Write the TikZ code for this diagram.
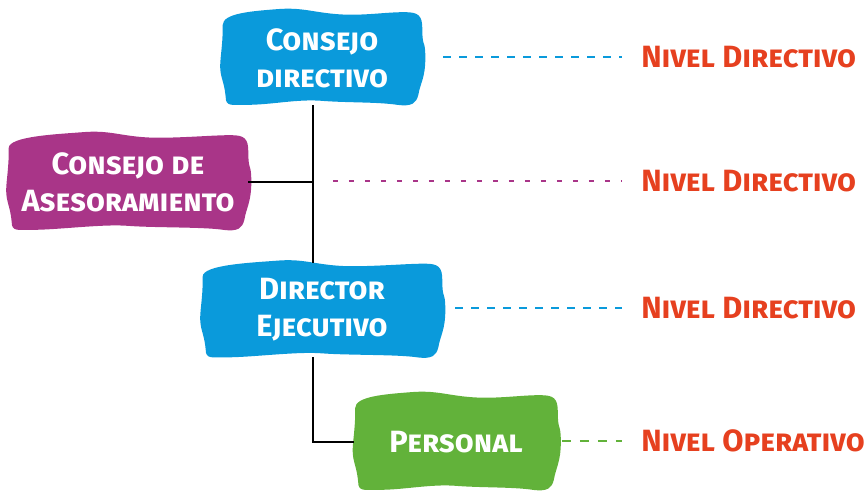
\documentclass[tikz,border=0pt]{standalone}
\usepackage{fontspec}
\setsansfont{Fira Sans}[BoldFont={Fira Sans Bold}]
\usetikzlibrary{calc,backgrounds}

\definecolor{dirblue}{HTML}{0A9ADB}
\definecolor{asemag}{HTML}{A93588}
\definecolor{pergreen}{HTML}{62B23A}
\definecolor{nivred}{HTML}{E6401F}

% wavy fill behind a named box
\newcommand{\wavybox}[2]{%
  \fill[#2] ($(#1.north west)+(1,14)$)
    .. controls +(0,-12) and +(-25,2) .. ($(#1.north)+(-45,-2)$)
    .. controls +(25,-2) and +(-25,-2) .. ($(#1.north)+(15,3)$)
    .. controls +(25,2) and +(-20,0) .. ($(#1.north east)+(-18,1)$)
    .. controls +(14,0) and +(0,-14) .. ($(#1.north east)+(0,18)$)
    .. controls +(0,20) and +(0,-20) .. ($(#1.east)+(3,0)$)
    .. controls +(0,20) and +(2,-12) .. ($(#1.south east)+(-4,-10)$)
    .. controls +(-2,8) and +(15,2) .. ($(#1.south east)+(-25,0)$)
    .. controls +(-20,-3) and +(25,2) .. ($(#1.south)+(0,-4)$)
    .. controls +(-25,-2) and +(25,0) .. ($(#1.south west)+(25,0)$)
    .. controls +(-15,0) and +(0,10) .. ($(#1.south west)+(4,-8)$)
    .. controls +(-2,-20) and +(-2,20) .. ($(#1.west)+(-1,0)$)
    .. controls +(2,-20) and +(0,12) .. cycle;
}

\begin{document}
\begin{tikzpicture}[x=0.02cm,y=-0.02cm,
  box/.style={text=white,font=\sffamily\bfseries\scshape\fontsize{17.5}{21}\selectfont,
    align=center,inner sep=0pt},
  nivel/.style={text=nivred,font=\sffamily\bfseries\scshape\fontsize{17.5}{20}\selectfont,
    anchor=west,inner sep=0pt},
  trunkline/.style={line width=1.6pt},
  dashblue/.style={dirblue,line width=1.5pt,dash pattern=on 0.16cm off 0.16cm},
  dashmag/.style={asemag,line width=1.5pt,dash pattern=on 0.1cm off 0.22cm},
  dashgreen/.style={pergreen,line width=1.5pt,dash pattern=on 0.18cm off 0.18cm}]
  \useasboundingbox (0,0) rectangle (867,493);

  %boxes
  \node[box,minimum width=4cm,minimum height=1.86cm] (cd) at (322,58) {Consejo\\directivo};
  \node[box,minimum width=4.8cm,minimum height=1.9cm] (ca) at (128,182) {Consejo de\\Asesoramiento};
  \node[box,minimum width=4.8cm,minimum height=1.88cm] (de) at (322,310) {Director\\Ejecutivo};
  \node[box,minimum width=4.06cm,minimum height=1.9cm] (pe) at (456,442) {Personal};
  \begin{pgfonlayer}{background}
    \wavybox{cd}{dirblue}
    \wavybox{ca}{asemag}
    \wavybox{de}{dirblue}
    \wavybox{pe}{pergreen}
  \end{pgfonlayer}

  %levels
  \node[nivel] (n1) at (641,57) {Nivel Directivo};
  \node[nivel] (n2) at (641,181) {Nivel Directivo};
  \node[nivel] (n3) at (641,308) {Nivel Directivo};
  \node[nivel] (n4) at (641,441) {Nivel Operativo};

  %tree
  \coordinate (t) at (313,0);
  \draw[trunkline] (cd.south -| t) -- (de.north -| t);
  \draw[trunkline] (ca.east) -- (ca.east -| t);
  \draw[trunkline] (de.south -| t) |- (pe.west);

  %dashed
  \draw[dashblue,shorten <=0.42cm,shorten >=0.38cm] (cd.east |- n1) -- (n1.west);
  \draw[dashmag,shorten <=0.4cm,shorten >=0.38cm] (n2 -| t) -- (n2.west);
  \draw[dashblue,shorten <=0.26cm,shorten >=0.38cm] (de.east |- n3) -- (n3.west);
  \draw[dashgreen,shorten <=0.08cm,shorten >=0.38cm] (pe.east |- n4) -- (n4.west);
\end{tikzpicture}
\end{document}
